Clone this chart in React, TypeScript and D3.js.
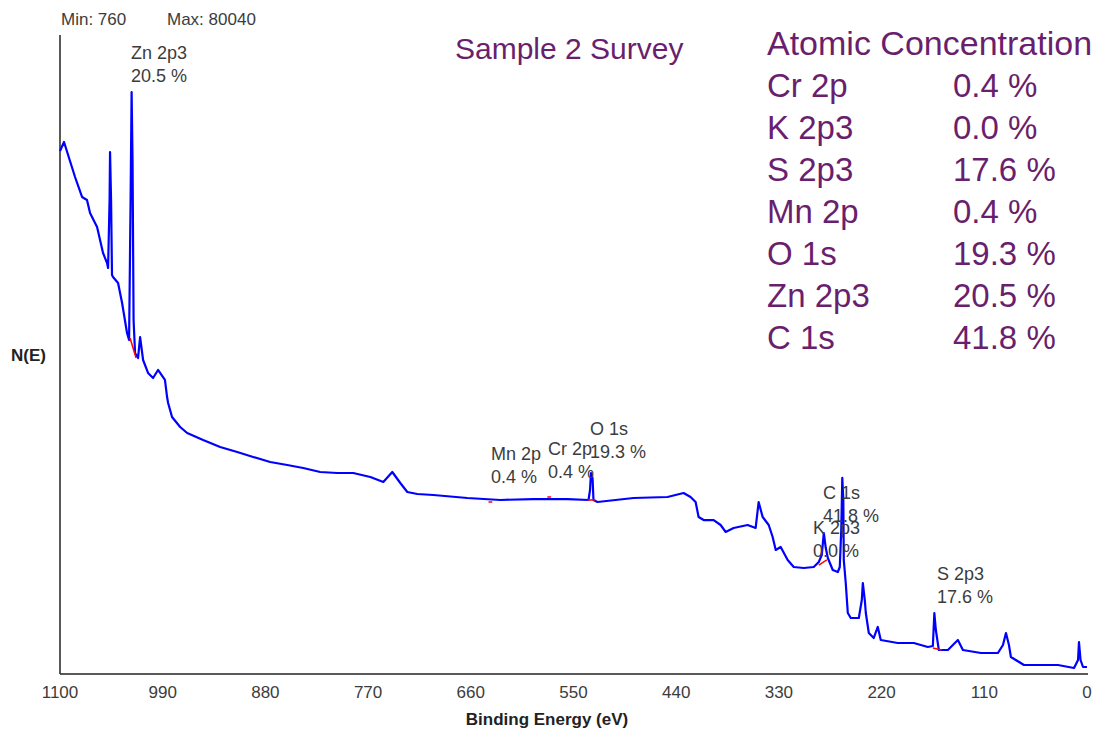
import React from "react"
import * as d3 from "d3"

// spectrum: [binding energy (eV), counts]
const spectrum: [number, number][] = [
  [1100, 71950], [1095.7, 73180], [1083.9, 68380], [1076.4, 65640], [1071.1, 65225],
  [1067.8, 63440], [1060.3, 61520], [1053.9, 57960], [1049.6, 56580], [1048.5, 55900],
  [1046.9, 65225], [1046.4, 71810], [1045.3, 65225], [1044.3, 54940], [1043.2, 54660],
  [1037.8, 53840], [1033.5, 51100], [1028.2, 46980], [1026.0, 46020], [1024.4, 65225],
  [1023.3, 80040], [1022.3, 70710], [1021.2, 48770], [1019.6, 44240], [1016.4, 43550],
  [1014.2, 46430], [1011.0, 43280], [1005.7, 41500], [1000.3, 40810], [995.0, 41910],
  [987.6, 40540], [985.3, 38200], [984.2, 37380], [980.0, 35460], [971.3, 34090],
  [963.8, 33270], [946.7, 32310], [928.5, 31350], [910.2, 30660], [893.1, 29980],
  [874.9, 29290], [856.6, 28880], [839.5, 28470], [821.3, 27920], [803.0, 27780],
  [785.9, 27780], [767.6, 27230], [753.7, 26550], [744.1, 27920], [735.5, 26410],
  [728.0, 25170], [717.3, 24900], [700.1, 24760], [663.7, 24350], [628.3, 24080],
  [592.9, 24210], [556.4, 24210], [533.9, 24080], [532.3, 25450], [531.3, 27780],
  [529.6, 27100], [528.6, 24080], [524.3, 23800], [485.7, 24350], [449.3, 24490],
  [432.1, 25040], [424.6, 24490], [419.2, 23800], [416.0, 21750], [410.6, 21330],
  [399.9, 21330], [392.4, 20650], [387.1, 19690], [378.5, 20240], [363.5, 20650],
  [354.9, 20240], [351.7, 23800], [347.4, 21750], [340.9, 20650], [336.7, 19000],
  [333.4, 17220], [328.1, 17630], [320.6, 15850], [314.1, 14890], [303.4, 14750],
  [292.7, 14890], [287.3, 15570], [284.1, 16530], [281.9, 19550], [279.8, 17490],
  [277.6, 16120], [272.3, 14480], [266.9, 14200], [264.8, 14890], [263.2, 19960],
  [262.1, 27100], [261.0, 24080], [260.5, 15850], [258.4, 12690], [256.2, 8580],
  [253.0, 7890], [244.4, 7890], [241.2, 10360], [240.1, 12690], [238.0, 10360],
  [236.9, 8580], [233.7, 5835], [228.4, 5150], [224.1, 6660], [220.9, 4875],
  [202.7, 4465], [185.5, 4465], [170.5, 3915], [165.1, 4050], [163.5, 8580],
  [161.9, 6250], [158.7, 3505], [149.0, 3505], [138.3, 4875], [132.9, 3505],
  [113.6, 3090], [95.4, 3090], [90.0, 4190], [86.8, 5835], [83.6, 4190],
  [81.5, 2545], [67.5, 1445], [31.1, 1445], [13.9, 1035], [9.6, 2130],
  [8.6, 4600], [6.9, 2130], [4.3, 1170], [0, 1170],
]

// red background segments under the fitted peaks: [eV1, c1, eV2, c2]
const backgrounds: [number, number, number, number][] = [
  [1025.0, 46300, 1018.5, 43550],
  [641, 23800, 637, 23800],
  [578, 24490, 574, 24490],
  [535, 24080, 526.4, 24080],
  [287.3, 15160, 278.7, 15850],
  [165.1, 3780, 155.4, 3505],
]

const peakNames = ["Zn 2p3", "Mn 2p", "Cr 2p", "O 1s", "C 1s", "K 2p3", "S 2p3"]
const peakPercents = ["20.5 %", "0.4 %", "0.4 %", "19.3 %", "41.8 %", "0.0 %", "17.6 %"]
// label anchor (eV, counts) for each peak label
const peakLabelAt: [number, number][] = [
  [1024, 84560], [638.4, 29560], [577.3, 30250], [532.3, 32990], [282.8, 24210], [293.5, 19410], [160.7, 13100],
]

const concNames = ["Cr 2p", "K 2p3", "S 2p3", "Mn 2p", "O 1s", "Zn 2p3", "C 1s"]
const concValues = ["0.4 %", "0.0 %", "17.6 %", "0.4 %", "19.3 %", "20.5 %", "41.8 %"]

const xTicks = [1100, 990, 880, 770, 660, 550, 440, 330, 220, 110, 0]
const yMin = 760
const yMax = 80040

const W = 1104
const H = 732
const purple = "#6a1f6e"
const grey = "#3c3c3c"
const font = "'Liberation Sans', Arial, sans-serif"

export default function App() {
  const x = d3.scaleLinear().domain([1100, 0]).range([60, 1087])
  const y = d3.scaleLinear().domain([yMin, yMax]).range([670, 92])

  const line = d3
    .line<[number, number]>()
    .x((d) => x(d[0]))
    .y((d) => y(d[1]))

  return (
    <div style={{ position: "fixed", left: 0, top: 0 }}>
      <svg width={W} height={H} style={{ display: "block", background: "#fff" }} fontFamily={font}>
        {/* header */}
        <text x={61} y={25} fontSize={17} fill={grey}>Min: {yMin}</text>
        <text x={167} y={25} fontSize={17} fill={grey}>Max: {yMax}</text>
        <text x={455} y={59} fontSize={30} fill={purple}>Sample 2 Survey</text>

        {/* axes */}
        <line x1={60} x2={60} y1={35} y2={674} stroke="#222" strokeWidth={1.5} />
        <line x1={60} x2={1088} y1={674} y2={674} stroke="#222" strokeWidth={1.5} />
        {xTicks.map((t) => (
          <text key={t} x={x(t)} y={698} fontSize={17} fill={grey} textAnchor="middle">
            {t}
          </text>
        ))}
        <text x={547} y={725} fontSize={17} fontWeight="bold" fill="#222" textAnchor="middle">
          Binding Energy (eV)
        </text>
        <text x={11} y={361} fontSize={17} fontWeight="bold" fill="#222">N(E)</text>

        {/* spectrum */}
        <path d={line(spectrum) || ""} fill="none" stroke="#0000ff" strokeWidth={2.2} strokeLinejoin="round" />
        {backgrounds.map((b, i) => (
          <line key={i} x1={x(b[0])} y1={y(b[1])} x2={x(b[2])} y2={y(b[3])} stroke="#ff0000" strokeWidth={1.5} />
        ))}

        {/* peak labels */}
        {peakNames.map((n, i) => {
          const [e, c] = peakLabelAt[i]
          const px = x(e)
          const py = y(c)
          return (
            <g key={n} fontSize={18} fill={grey}>
              <text x={px} y={py}>{n}</text>
              <text x={px} y={py + 23}>{peakPercents[i]}</text>
            </g>
          )
        })}

        {/* atomic concentration table */}
        <text x={767} y={55} fontSize={34} fill={purple}>Atomic Concentration</text>
        {concNames.map((n, i) => (
          <g key={n} fontSize={33} fill={purple}>
            <text x={767} y={97 + i * 42}>{n}</text>
            <text x={953} y={97 + i * 42}>{concValues[i]}</text>
          </g>
        ))}
      </svg>
    </div>
  )
}
